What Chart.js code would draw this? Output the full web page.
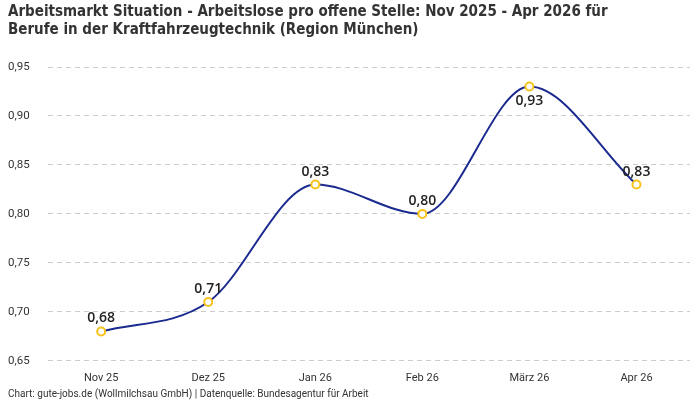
<!DOCTYPE html>
<html>
<head>
<meta charset="utf-8">
<script src="https://cdn.jsdelivr.net/npm/chart.js@4"></script>
<style>
  body { margin: 0; background: #fff; }
</style>
</head>
<body>
<canvas id="chart" width="700" height="400"></canvas>
<script>
// months shown on the x axis
const months = ['Nov 25', 'Dez 25', 'Jan 26', 'Feb 26', 'März 26', 'Apr 26'];
// Arbeitslose pro offene Stelle
const ratio = [0.68, 0.71, 0.83, 0.80, 0.93, 0.83];
// labels placed under the point instead of above
const labelBelow = [false, false, false, false, true, false];

const fmt = v => v.toFixed(2).replace('.', ',');

// draws the value labels next to each point
const valueLabels = {
    id: 'valueLabels',
    afterDatasetsDraw(chart) {
        const ctx = chart.ctx;
        const meta = chart.getDatasetMeta(0);
        ctx.save();
        ctx.font = '600 14px "Open Sans", sans-serif';
        ctx.fillStyle = '#222';
        ctx.textAlign = 'center';
        meta.data.forEach((pt, i) => {
            if (labelBelow[i]) {
                ctx.textBaseline = 'top';
                ctx.fillText(fmt(ratio[i]), pt.x, pt.y + 7);
            } else {
                ctx.textBaseline = 'bottom';
                ctx.fillText(fmt(ratio[i]), pt.x, pt.y - 6);
            }
        });
        ctx.restore();
    }
};

new Chart(document.getElementById('chart').getContext('2d'), {
    type: 'line',
    data: {
        labels: months,
        datasets: [{
            data: ratio,
            borderColor: '#1b2a8f',
            borderWidth: 2,
            cubicInterpolationMode: 'monotone',
            pointRadius: 4,
            pointBorderWidth: 2,
            pointBackgroundColor: '#fff',
            pointBorderColor: '#f7c21b',
            fill: false
        }]
    },
    options: {
        responsive: false,
        animation: false,
        layout: { padding: { left: 8, right: 10, top: 0, bottom: 0 } },
        plugins: {
            legend: { display: false },
            tooltip: { enabled: false },
            title: {
                display: true,
                align: 'start',
                text: ['Arbeitsmarkt Situation - Arbeitslose pro offene Stelle: Nov 2025 - Apr 2026 für',
                       'Berufe in der Kraftfahrzeugtechnik (Region München)'],
                color: '#333',
                font: { family: '"DejaVu Sans Condensed", "Liberation Sans Narrow", "Roboto", sans-serif', size: 15, weight: 'bold', lineHeight: 1.2 },
                padding: { top: 3, bottom: 28 }
            },
            subtitle: {
                display: true,
                position: 'bottom',
                align: 'start',
                text: 'Chart: gute-jobs.de (Wollmilchsau GmbH) | Datenquelle: Bundesagentur für Arbeit',
                color: '#333',
                font: { family: '"Roboto", sans-serif', size: 10 },
                padding: { top: -8, bottom: 0 }
            }
        },
        scales: {
            x: {
                offset: true,
                grid: { display: false, drawTicks: false },
                border: { display: false },
                ticks: { color: '#333', font: { family: '"Roboto", sans-serif', size: 11 }, padding: 11 }
            },
            y: {
                min: 0.65,
                max: 0.95,
                grid: { color: '#cccccc', drawTicks: false },
                border: { display: false, dash: [5, 4] },
                ticks: {
                    stepSize: 0.05,
                    color: '#333',
                    padding: 9,
                    crossAlign: 'far',
                    font: { family: '"Roboto", sans-serif', size: 11.5 },
                    callback: v => fmt(v)
                }
            }
        }
    },
    plugins: [valueLabels]
});
</script>
</body>
</html>
